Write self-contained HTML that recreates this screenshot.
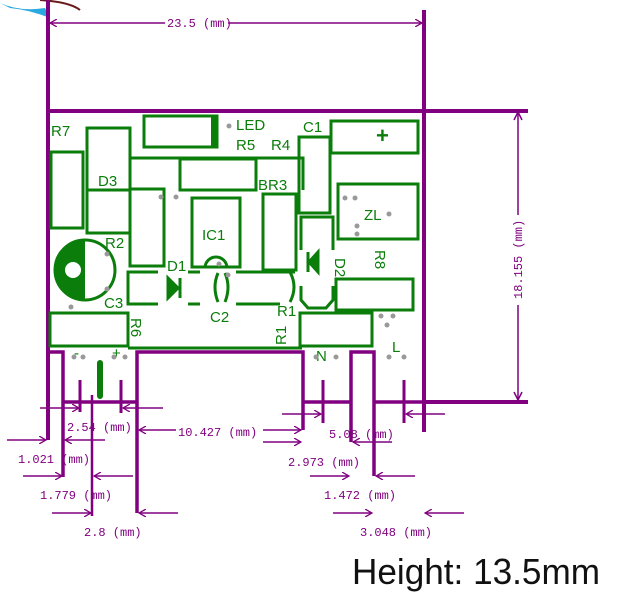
<!DOCTYPE html>
<html><head><meta charset="utf-8"><style>
html,body{margin:0;padding:0;background:#fff;width:626px;height:610px;overflow:hidden}
svg{display:block}
.p{stroke:#800080;fill:none}
.g{stroke:#0a7d0a;fill:none;stroke-width:3}
.dt{font-family:"Liberation Mono",monospace;font-size:12px;fill:#800080}
.gt{font-family:"Liberation Sans",sans-serif;font-size:15px;fill:#0a7d0a}
.dot{fill:#999}
</style></head><body>
<svg width="626" height="610" viewBox="0 0 626 610">
<defs>
<marker id="a" markerWidth="8" markerHeight="8" refX="7" refY="4" orient="auto" markerUnits="userSpaceOnUse"><path d="M0,0 L7,4 L0,8" fill="none" stroke="#800080" stroke-width="1.3"/></marker>
</defs>
<path d="M0,3 Q20,12 45,8 L50,18 Q30,10 10,8 Z" fill="#2aa8e0"/>
<path d="M40,0 Q70,2 80,10" stroke="#6a1a1a" stroke-width="2" fill="none"/>

<line class="p" x1="48" y1="0" x2="48" y2="111" stroke-width="4"/>
<line class="p" x1="424" y1="10" x2="424" y2="111" stroke-width="4"/>
<line class="p" x1="165" y1="23" x2="50" y2="23" stroke-width="1.5" marker-end="url(#a)"/>
<line class="p" x1="228" y1="23" x2="422" y2="23" stroke-width="1.5" marker-end="url(#a)"/>
<text class="dt" x="167" y="27">23.5 (mm)</text>

<line class="p" x1="46" y1="111" x2="528" y2="111" stroke-width="4"/>
<line class="p" x1="48" y1="111" x2="48" y2="440" stroke-width="4"/>
<line class="p" x1="424" y1="111" x2="424" y2="432" stroke-width="4"/>
<line class="p" x1="424" y1="402" x2="528" y2="402" stroke-width="4"/>
<line class="p" x1="518" y1="112" x2="518" y2="215" stroke-width="1.5"/>
<path d="M514,120 L518,112 L522,120" class="p" stroke-width="1.5"/>
<line class="p" x1="518" y1="305" x2="518" y2="400" stroke-width="1.5"/>
<path d="M514,392 L518,400 L522,392" class="p" stroke-width="1.5"/>
<text class="dt" x="0" y="0" font-size="11" transform="translate(522,299) rotate(-90)">18.155 (mm)</text>

<path class="p" stroke-width="3.5" d="M48,352 L63,352 L63,477 M63,402 L137,402 M137,513 L137,352 L303,352 L303,430 M303,402 L351,402 L351,442 M351,402 L351,352 L374,352 L374,476 M374,402 L480,402"/>
<line class="p" x1="92" y1="395" x2="92" y2="516" stroke-width="2.5"/>
<line class="p" x1="80" y1="380" x2="80" y2="412" stroke-width="3"/>
<line class="p" x1="121" y1="380" x2="121" y2="413" stroke-width="3"/>
<line class="p" x1="323" y1="380" x2="323" y2="423" stroke-width="3"/>
<line class="p" x1="404" y1="380" x2="404" y2="423" stroke-width="3"/>
<line x1="100" y1="363" x2="100" y2="396" stroke="#0a7d0a" stroke-width="6" stroke-linecap="round"/>

<g stroke-width="1.5" class="p">
<line x1="40" y1="408" x2="79" y2="408" marker-end="url(#a)"/>
<line x1="163" y1="408" x2="123" y2="408" marker-end="url(#a)"/>
<line x1="7" y1="440" x2="46" y2="440" marker-end="url(#a)"/>
<line x1="105" y1="440" x2="65" y2="440" marker-end="url(#a)"/>
<line x1="23" y1="476" x2="62" y2="476" marker-end="url(#a)"/>
<line x1="133" y1="476" x2="94" y2="476" marker-end="url(#a)"/>
<line x1="52" y1="513" x2="91" y2="513" marker-end="url(#a)"/>
<line x1="178" y1="513" x2="139" y2="513" marker-end="url(#a)"/>
<line x1="176" y1="430" x2="139" y2="430" marker-end="url(#a)"/>
<line x1="263" y1="430" x2="301" y2="430" marker-end="url(#a)"/>
<line x1="282" y1="414" x2="321" y2="414" marker-end="url(#a)"/>
<line x1="445" y1="414" x2="406" y2="414" marker-end="url(#a)"/>
<line x1="263" y1="442" x2="301" y2="442" marker-end="url(#a)"/>
<line x1="392" y1="442" x2="353" y2="442" marker-end="url(#a)"/>
<line x1="310" y1="476" x2="349" y2="476" marker-end="url(#a)"/>
<line x1="415" y1="476" x2="376" y2="476" marker-end="url(#a)"/>
<line x1="333" y1="513" x2="372" y2="513" marker-end="url(#a)"/>
<line x1="464" y1="513" x2="425" y2="513" marker-end="url(#a)"/>
</g>
<text class="dt" x="67" y="431">2.54 (mm)</text>
<text class="dt" x="18" y="463">1.021 (mm)</text>
<text class="dt" x="40" y="499">1.779 (mm)</text>
<text class="dt" x="84" y="536">2.8 (mm)</text>
<text class="dt" x="178" y="436">10.427 (mm)</text>
<text class="dt" x="329" y="438">5.08 (mm)</text>
<text class="dt" x="288" y="466">2.973 (mm)</text>
<text class="dt" x="324" y="499">1.472 (mm)</text>
<text class="dt" x="360" y="536">3.048 (mm)</text>

<rect class="g" x="144" y="116" width="73" height="31"/>
<line x1="214" y1="116" x2="214" y2="147" stroke="#0a7d0a" stroke-width="6"/>
<text class="gt" x="236" y="130" font-size="16">LED</text>
<text class="gt" x="303" y="132">C1</text>
<rect class="g" x="331" y="121" width="87" height="32"/>
<text x="376" y="143" font-family="Liberation Sans" font-size="22" font-weight="bold" fill="#0a7d0a">+</text>
<text class="gt" x="236" y="150">R5</text><text class="gt" x="271" y="150">R4</text>
<text class="gt" x="51" y="136">R7</text>
<rect class="g" x="51" y="152" width="32" height="76"/>
<rect class="g" x="87" y="128" width="43" height="62"/>
<rect class="g" x="87" y="190" width="43" height="43"/>
<text class="gt" x="98" y="186">D3</text>
<path class="g" d="M130,158 L303,158 L303,190"/>
<rect class="g" x="180" y="159" width="76" height="31"/>
<rect class="g" x="130" y="189" width="34" height="77"/>
<rect class="g" x="299" y="137" width="31" height="76"/>
<text class="gt" x="258" y="190">BR3</text>
<rect class="g" x="192" y="198" width="48" height="69"/>
<text class="gt" x="202" y="240">IC1</text>
<rect class="g" x="263" y="194" width="33" height="76"/>
<rect class="g" x="338" y="184" width="80" height="55"/>
<text class="gt" x="364" y="220">ZL</text>
<path class="g" d="M301,250 L301,217 L333,217 L333,250"/>
<path d="M309,262 L318,252 L318,272 Z M308,252 L308,272" fill="#0a7d0a" stroke="#0a7d0a" stroke-width="3"/>
<path class="g" d="M301,286 L301,300 L308,308 L326,308 L333,300 L333,286"/>
<text class="gt" x="0" y="0" transform="translate(335,258) rotate(90)">D2</text>
<text class="gt" x="0" y="0" transform="translate(375,250) rotate(90)">R8</text>
<rect class="g" x="336" y="279" width="77" height="31"/>
<circle cx="85" cy="270" r="30" fill="#fff" stroke="#0a7d0a" stroke-width="3"/>
<path d="M85,240 A30,30 0 0 0 85,300 Z" fill="#0a7d0a"/>
<circle cx="73" cy="270" r="8" fill="#fff"/>
<text class="gt" x="105" y="248">R2</text>
<text class="gt" x="104" y="308">C3</text>
<path class="g" d="M158,272 L128,272 L128,304 L158,304"/>
<path class="g" d="M188,272 L200,272 M188,304 L200,304"/>
<path d="M168,278 L178,288 L168,298 Z M180,278 L180,298" fill="#0a7d0a" stroke="#0a7d0a" stroke-width="3"/>
<text class="gt" x="167" y="271">D1</text>
<path class="g" d="M205,268 A10,10 0 0 1 227,268"/>
<path class="g" d="M218,273 Q212,287 218,302 M225,273 Q231,287 225,302"/>
<path class="g" d="M236,272 L295,272 M236,304 L280,304"/>
<path class="g" d="M290,272 Q298,287 290,302"/>
<text class="gt" x="210" y="322">C2</text>
<text class="gt" x="277" y="316">R1</text>
<rect class="g" x="50" y="313" width="78" height="33"/>
<rect class="g" x="300" y="313" width="72" height="33"/>
<line class="g" x1="128" y1="348" x2="302" y2="348"/>
<text class="gt" x="0" y="0" transform="translate(131,318) rotate(90)">R6</text>
<text class="gt" x="0" y="0" transform="translate(286,345) rotate(-90)">R1</text>
<text class="gt" x="316" y="361">N</text>
<text class="gt" x="392" y="352">L</text>
<text class="gt" x="74" y="358">-</text>
<text class="gt" x="112" y="358">+</text>
<g class="dot">
<circle cx="229" cy="126" r="2.5"/><circle cx="161" cy="197" r="2.5"/><circle cx="176" cy="197" r="2.5"/>
<circle cx="219" cy="264" r="2.5"/><circle cx="228" cy="275" r="2.5"/><circle cx="345" cy="198" r="2.5"/><circle cx="355" cy="198" r="2.5"/>
<circle cx="389" cy="214" r="2.5"/><circle cx="357" cy="226" r="2.5"/><circle cx="357" cy="234" r="2.5"/>
<circle cx="107" cy="254" r="2.5"/><circle cx="107" cy="289" r="2.5"/><circle cx="71" cy="307" r="2.5"/>
<circle cx="381" cy="316" r="2.5"/><circle cx="393" cy="316" r="2.5"/><circle cx="387" cy="325" r="2.5"/>
<circle cx="74" cy="357" r="2.5"/><circle cx="83" cy="357" r="2.5"/><circle cx="114" cy="357" r="2.5"/><circle cx="125" cy="357" r="2.5"/>
<circle cx="316" cy="357" r="2.5"/><circle cx="336" cy="357" r="2.5"/><circle cx="389" cy="357" r="2.5"/><circle cx="404" cy="357" r="2.5"/>
</g>

<text x="352" y="584" font-family="Liberation Sans, sans-serif" font-size="36" fill="#111" textLength="248" lengthAdjust="spacingAndGlyphs">Height: 13.5mm</text>
</svg>
</body></html>
